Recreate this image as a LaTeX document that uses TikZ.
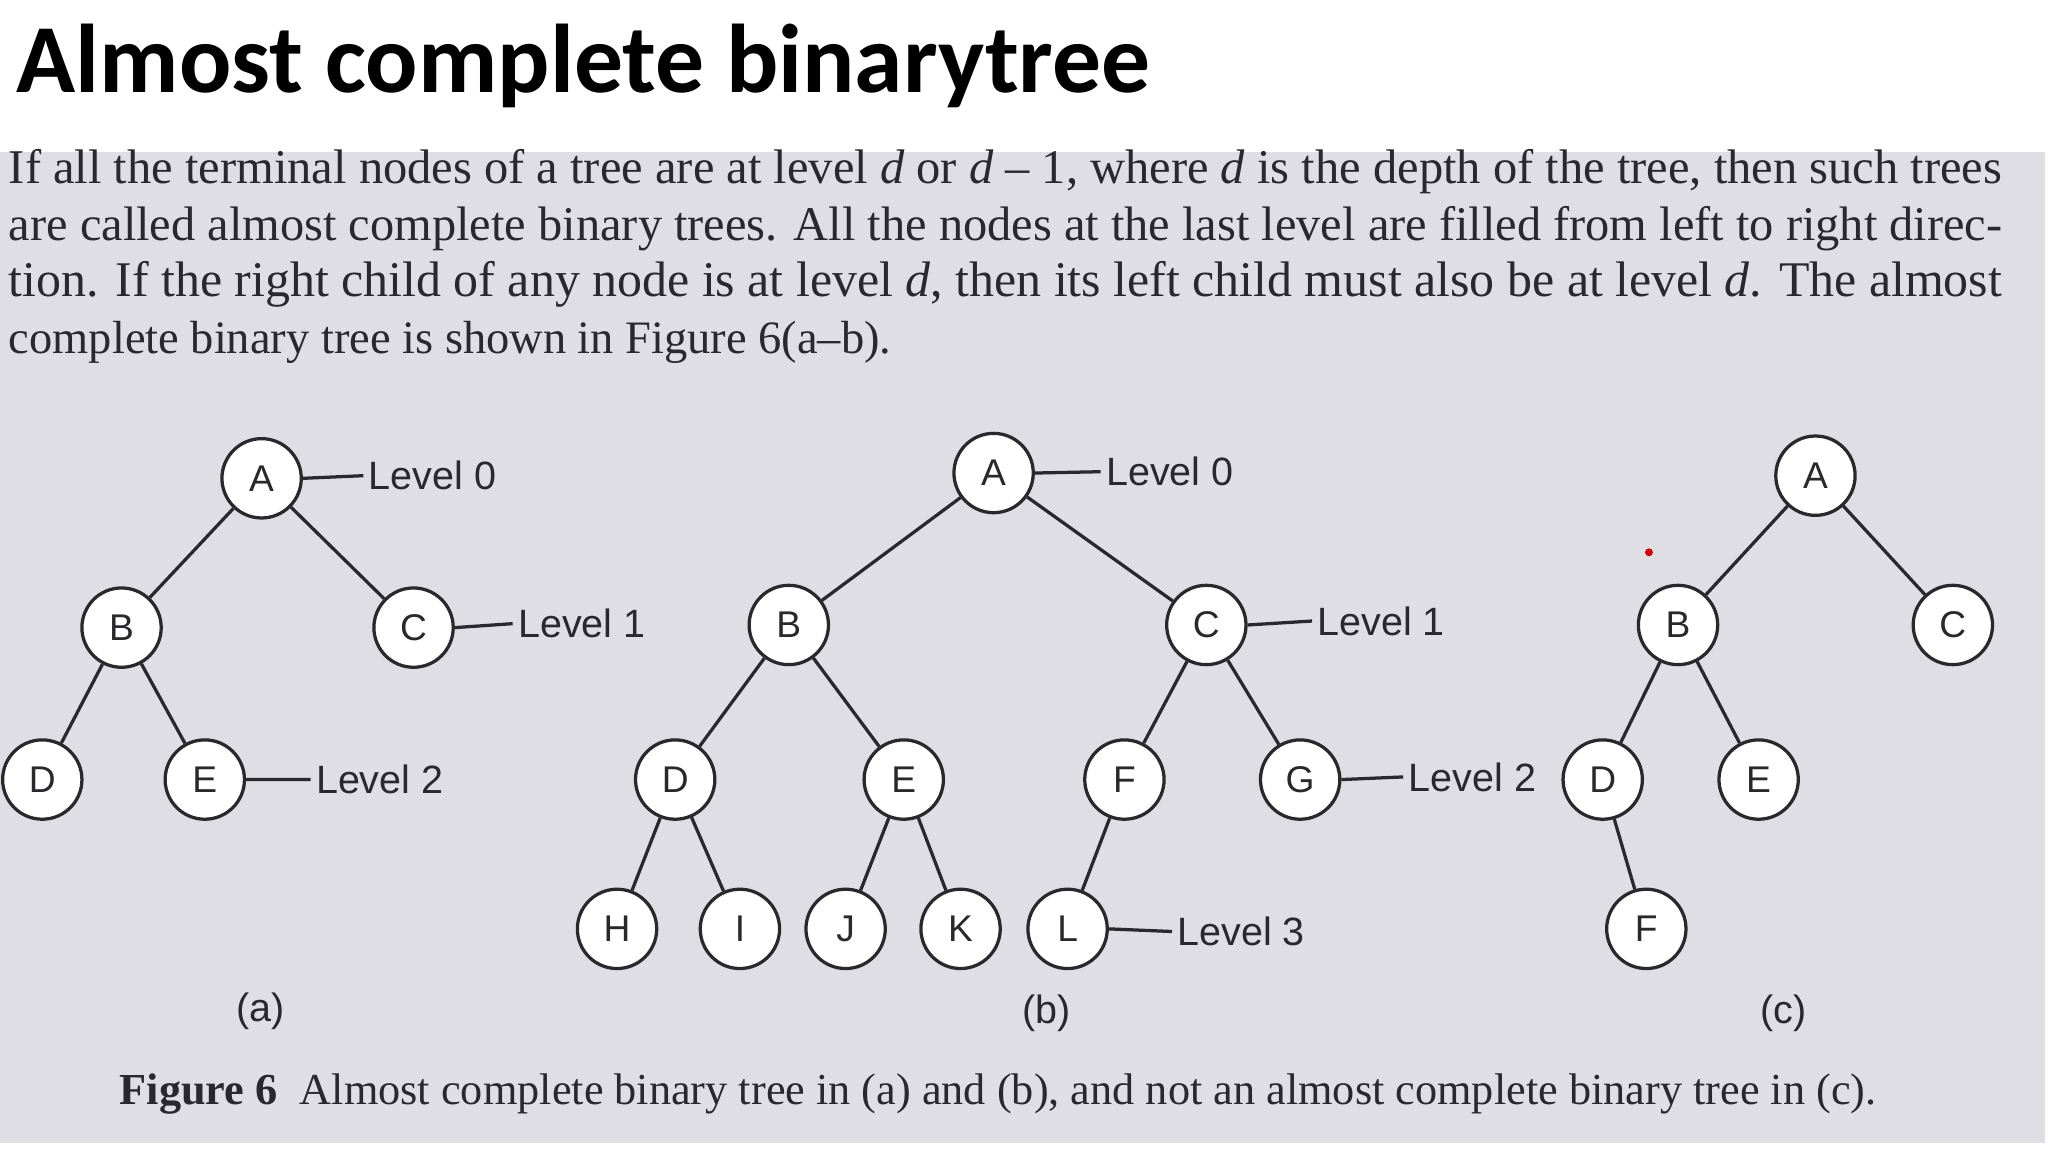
\documentclass[tikz,border=0pt]{standalone}
\usepackage{fontspec}
\setmainfont{Liberation Serif}
\newfontfamily\titlefont{Carlito}
\newfontfamily\arialf{Liberation Sans}
\definecolor{paper}{RGB}{222,222,228}
\definecolor{ink}{RGB}{40,40,45}
\begin{document}
\begin{tikzpicture}[x=0.01cm,y=-0.01cm,
  tn/.style={circle,draw=ink,line width=0.7pt,fill=white,minimum size=0.6cm,inner sep=0pt,font=\arialf\fontsize{8}{9}\selectfont,text=ink},
  lvl/.style={anchor=west,font=\arialf\fontsize{8.5}{10}\selectfont,text=ink,inner sep=1pt},
  ed/.style={draw=ink,line width=0.7pt},
  txt/.style={anchor=west,inner sep=0pt,text=ink,font=\fontsize{9.5}{11}\selectfont}]
\useasboundingbox (0,0) rectangle (1550,872);
\fill[white] (0,0) rectangle (1550,872);
\fill[paper] (0,115) rectangle (1548,865);
\node[anchor=west,inner sep=0pt,font=\titlefont\bfseries\fontsize{21}{24}\selectfont] (title) at (12,50) {Almost complete binarytree};
% paragraph
\node[txt] (p1) at (6,130) {\resizebox{429pt}{!}{If all the terminal nodes of a tree are at level \textit{d} or \textit{d} – 1, where \textit{d} is the depth of the tree, then such trees}};
\node[txt] (p2) at (6,173) {\resizebox{429pt}{!}{are called almost complete binary trees. All the nodes at the last level are filled from left to right direc-}};
\node[txt] (p3) at (6,215) {\resizebox{429pt}{!}{tion. If the right child of any node is at level \textit{d}, then its left child must also be at level \textit{d}. The almost}};
\node[txt,font=\fontsize{10}{11}\selectfont] (p4) at (6,259) {complete binary tree is shown in Figure 6(a–b).};
% tree a
\node[tn] (aA) at (198,362) {A};
\node[tn] (aB) at (92,475) {B};
\node[tn] (aC) at (313,475) {C};
\node[tn] (aD) at (32,590) {D};
\node[tn] (aE) at (155,590) {E};
\draw[ed] (aA)--(aB) (aA)--(aC) (aB)--(aD) (aB)--(aE);
\node[lvl] (aL0) at (275,360) {Level 0};
\node[lvl] (aL1) at (388,472) {Level 1};
\node[lvl] (aL2) at (235,590) {Level 2};
\draw[ed] (aA.east)--(aL0.west) (aC.east)--(aL1.west) (aE.east)--(aL2.west);
% tree b
\node[tn] (bA) at (752,358) {A};
\node[tn] (bB) at (597,473) {B};
\node[tn] (bC) at (913,473) {C};
\node[tn] (bD) at (511,590) {D};
\node[tn] (bE) at (684,590) {E};
\node[tn] (bF) at (851,590) {F};
\node[tn] (bG) at (984,590) {G};
\node[tn] (bH) at (467,703) {H};
\node[tn] (bI) at (560,703) {I};
\node[tn] (bJ) at (640,703) {J};
\node[tn] (bK) at (727,703) {K};
\node[tn] (bL) at (808,703) {L};
\draw[ed] (bA)--(bB) (bA)--(bC) (bB)--(bD) (bB)--(bE) (bC)--(bF) (bC)--(bG)
  (bD)--(bH) (bD)--(bI) (bE)--(bJ) (bE)--(bK) (bF)--(bL);
\node[lvl] (bL0) at (833,357) {Level 0};
\node[lvl] (bL1) at (993,470) {Level 1};
\node[lvl] (bL2) at (1062,588) {Level 2};
\node[lvl] (bL3) at (887,705) {Level 3};
\draw[ed] (bA.east)--(bL0.west) (bC.east)--(bL1.west) (bG.east)--(bL2.west) (bL.east)--(bL3.west);
% tree c
\node[tn] (cA) at (1374,360) {A};
\node[tn] (cB) at (1270,473) {B};
\node[tn] (cC) at (1478,473) {C};
\node[tn] (cD) at (1213,590) {D};
\node[tn] (cE) at (1331,590) {E};
\node[tn] (cF) at (1246,703) {F};
\draw[ed] (cA)--(cB) (cA)--(cC) (cB)--(cD) (cB)--(cE) (cD)--(cF);
\fill[red!80!black] (1248,418) circle (3);
% sublabels
\node[lvl,anchor=center] (la) at (197,765) {(a)};
\node[lvl,anchor=center] (lb) at (792,767) {(b)};
\node[lvl,anchor=center] (lc) at (1350,767) {(c)};
\node[txt] (cap) at (90,828) {\resizebox{378pt}{!}{\textbf{Figure 6}\ \ Almost complete binary tree in (a) and (b), and not an almost complete binary tree in (c).}};
\end{tikzpicture}
\end{document}
